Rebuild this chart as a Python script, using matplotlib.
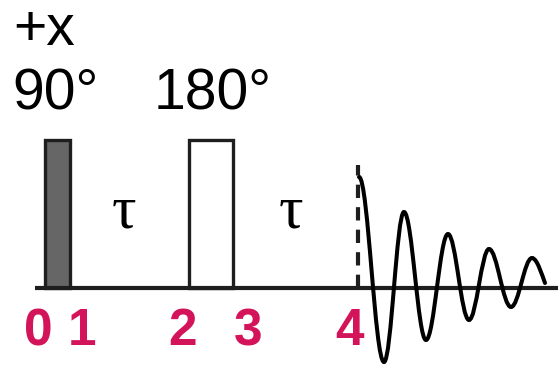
import matplotlib
matplotlib.use("Agg")
import matplotlib.pyplot as plt
from matplotlib.patches import Rectangle, PathPatch
from matplotlib.path import Path

# ---- data (diagram coordinates, x = time axis, y = amplitude, baseline at 0) ----
event_labels = ["0", "1", "2", "3", "4"]
event_x = [38, 82, 182, 248, 350]
pulse_names = ["90°", "180°"]
pulse_start = [45, 189]
pulse_end = [70, 233]
pulse_height = 148
pulse_fill = ["#666666", "white"]
phase_label = "+x"
delay_label = "τ"
delay_x = [124, 291]
echo_x = 358
# FID extrema (x, amplitude)
fid_x = [362, 384, 404, 426, 448, 469, 489, 511, 532]
fid_y = [111, -74, 76, -52, 54, -32, 39, -19, 30]
fid_end = (545, 5)

fig = plt.figure(figsize=(5.58, 3.66), dpi=100)
ax = fig.add_axes([0, 0, 1, 1])
ax.set_xlim(0, 558)
ax.set_ylim(288 - 366, 288)
ax.axis("off")

dark = "#1e1e1e"
mag = "#d4145a"

# baseline
ax.plot([35, 558], [0, 0], color=dark, lw=3.0, solid_capstyle="butt", zorder=3)

# pulses
for s, e, fc in zip(pulse_start, pulse_end, pulse_fill):
    ax.add_patch(Rectangle((s, 0), e - s, pulse_height, facecolor=fc,
                           edgecolor=dark, lw=2.4, zorder=2))

# echo dashed line
ax.plot([echo_x, echo_x], [0, 123], color=dark, lw=3.0, dashes=(3.2, 2.2), zorder=2)

# FID as bezier segments between extrema
verts = [(fid_x[0] - 3, fid_y[0])]
codes = [Path.MOVETO]
for i in range(len(fid_x) - 1):
    x0, y0 = fid_x[i], fid_y[i]
    x1, y1 = fid_x[i + 1], fid_y[i + 1]
    if i == 0:
        x0 = fid_x[0] - 3
    k = 0.37 * (x1 - x0)
    verts += [(x0 + k, y0), (x1 - k, y1), (x1, y1)]
    codes += [Path.CURVE4] * 3
x0, y0 = fid_x[-1], fid_y[-1]
x1, y1 = fid_end
verts += [(x0 + 5, y0), (x1 - 3, y1 + 8), (x1, y1)]
codes += [Path.CURVE4] * 3
ax.add_patch(PathPatch(Path(verts, codes), facecolor="none", edgecolor="black",
                       lw=2.9, capstyle="round", zorder=4))

# texts
sans = ["Liberation Sans", "DejaVu Sans"]
ax.text(13, 288 - 45, phase_label, fontsize=41, family=sans, ha="left", va="baseline")
ax.text(12, 288 - 110, pulse_names[0], fontsize=41, family=sans, ha="left", va="baseline")
ax.text(154, 288 - 110, pulse_names[1], fontsize=41, family=sans, ha="left", va="baseline")
for dx in delay_x:
    ax.text(dx, 288 - 213, delay_label, fontsize=44, family=["Liberation Serif", "DejaVu Serif"],
            ha="center", va="center")
for lab, lx in zip(event_labels, event_x):
    ax.text(lx, 288 - 345, lab, fontsize=37, family=sans, fontweight="bold",
            color=mag, ha="center", va="baseline")

fig.savefig("out.png", dpi=100)
